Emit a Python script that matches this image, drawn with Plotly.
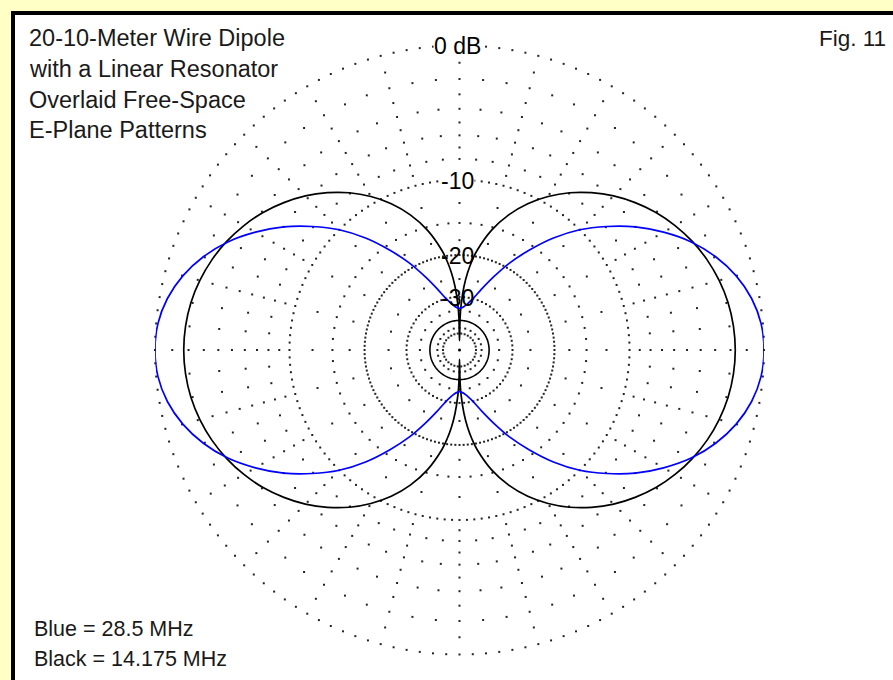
import numpy as np
import plotly.graph_objects as go

# ---------------- data ----------------
angles = [0, 5, 10, 15, 20, 25, 30, 35, 40, 45, 50, 55, 60, 65, 70, 75, 80, 82, 84, 86, 88, 89, 90,
          91, 92, 94, 96, 98, 100, 105, 110, 115, 120, 125, 130, 135, 140, 145, 150, 155, 160, 165, 170, 175, 180,
          185, 190, 195, 200, 205, 210, 215, 220, 225, 230, 235, 240, 245, 250, 255, 260, 262, 264, 266, 268, 269, 270,
          271, 272, 274, 276, 278, 280, 285, 290, 295, 300, 305, 310, 315, 320, 325, 330, 335, 340, 345, 350, 355, 360]

black_db = [-1.70, -1.75, -1.89, -2.14, -2.48, -2.92, -3.46, -4.10, -4.87, -5.74, -6.76, -7.92, -9.29, -10.89, -12.87, -15.40, -18.93, -20.89, -23.39, -26.92, -32.94, -38.96, -60.0,
            -38.96, -32.94, -26.92, -23.39, -20.89, -18.93, -15.40, -12.87, -10.89, -9.29, -7.92, -6.76, -5.74, -4.87, -4.10, -3.46, -2.92, -2.48, -2.14, -1.89, -1.75, -1.70,
            -1.75, -1.89, -2.14, -2.48, -2.92, -3.46, -4.10, -4.87, -5.74, -6.76, -7.92, -9.29, -10.89, -12.87, -15.40, -18.93, -20.89, -23.39, -26.92, -32.94, -38.96, -60.0,
            -38.96, -32.94, -26.92, -23.39, -20.89, -18.93, -15.40, -12.87, -10.89, -9.29, -7.92, -6.76, -5.74, -4.87, -4.10, -3.46, -2.92, -2.48, -2.14, -1.89, -1.75, -1.70]

blue_db = [0.0, -0.10, -0.45, -1.05, -1.90, -3.00, -4.40, -6.00, -7.90, -10.00, -12.60, -15.70, -19.00, -22.80, -26.50, -29.80, -32.00, -32.70, -33.30, -33.70, -34.00, -34.10, -34.20,
           -34.10, -34.00, -33.70, -33.30, -32.70, -32.00, -29.80, -26.50, -22.80, -19.00, -15.70, -12.60, -10.00, -7.90, -6.00, -4.40, -3.00, -1.90, -1.05, -0.45, -0.10, 0.0,
           -0.10, -0.45, -1.05, -1.90, -3.00, -4.40, -6.00, -7.90, -10.00, -12.60, -15.70, -19.00, -22.80, -26.50, -29.80, -32.00, -32.70, -33.30, -33.70, -34.00, -34.10, -34.20,
           -34.10, -34.00, -33.70, -33.30, -32.70, -32.00, -29.80, -26.50, -22.80, -19.00, -15.70, -12.60, -10.00, -7.90, -6.00, -4.40, -3.00, -1.90, -1.05, -0.45, -0.10, 0.0]

# grid levels (dB)
major_rings = [0, -10, -20]
minor_rings = [-2, -4, -6, -8, -15, -30]
inner_ring = -50
solid_ring = -40
spoke_levels = [-1, -3, -5, -7, -9, -12.5, -17.5, -25, -35, -45]
spoke_step = 15

ring_labels = ["0 dB", "-10", "-20", "-30"]
ring_label_levels = [0, -10, -20, -30]

title_lines = ["20-10-Meter Wire Dipole", "with a Linear Resonator", "Overlaid Free-Space", "E-Plane Patterns"]
legend_lines = ["Blue = 28.5 MHz", "Black = 14.175 MHz"]
fig_label = "Fig. 11"

# ---------------- ARRL log scale ----------------
def arrl(db):
    return 0.89 ** (-np.asarray(db, dtype=float) / 2.0)

W, H = 893, 680
CX, CY, R = 459.5, 350.0, 304.5
BG = "#ffffc6"

fig = go.Figure()

# dotted grid as small dots
gt, gr = [], []
def add_ring(level, step):
    for a in np.arange(0, 360, step):
        gt.append(float(a)); gr.append(float(arrl(level)))

for lv in major_rings:
    add_ring(lv, 2.5)
for lv in minor_rings:
    add_ring(lv, 5)
add_ring(inner_ring, 12)
for a in range(0, 360, spoke_step):
    for lv in spoke_levels:
        gt.append(a); gr.append(float(arrl(lv)))

fig.add_trace(go.Scatterpolar(r=gr, theta=gt, mode="markers",
                              marker=dict(color="#222222", size=2.0, symbol="square", line=dict(width=0)),
                              hoverinfo="skip", showlegend=False))

# solid ring
th = np.linspace(0, 360, 181)
fig.add_trace(go.Scatterpolar(r=[float(arrl(solid_ring))] * len(th), theta=th, mode="lines",
                              line=dict(color="black", width=1.6),
                              hoverinfo="skip", showlegend=False))

# patterns
fig.add_trace(go.Scatterpolar(r=arrl(black_db), theta=angles, mode="lines",
                              line=dict(color="black", width=1.7, shape="spline", smoothing=1.0),
                              showlegend=False))
fig.add_trace(go.Scatterpolar(r=arrl(blue_db), theta=angles, mode="lines",
                              line=dict(color="#0000ff", width=1.7, shape="spline", smoothing=1.0),
                              showlegend=False))
fig.add_trace(go.Scatterpolar(r=[0], theta=[0], mode="markers",
                              marker=dict(color="black", size=3), showlegend=False))

fig.update_layout(
    width=W, height=H,
    margin=dict(l=0, r=0, t=0, b=0),
    paper_bgcolor=BG,
    plot_bgcolor="white",
    showlegend=False,
    hovermode=False,
    polar=dict(
        domain=dict(x=[(CX - R) / W, (CX + R) / W], y=[(H - CY - R) / H, (H - CY + R) / H]),
        bgcolor="rgba(0,0,0,0)",
        radialaxis=dict(range=[0, 1.0], visible=False, showgrid=False),
        angularaxis=dict(visible=False, showgrid=False, rotation=0, direction="counterclockwise"),
    ),
    shapes=[dict(type="rect", xref="paper", yref="paper", layer="below",
                 x0=13 / W, x1=1.2, y0=-0.2, y1=1 - 13 / H,
                 line=dict(color="black", width=4), fillcolor="white")],
)

FONT = "Liberation Sans, Arial, sans-serif"
TXT = "#1a1a1a"
ann = []
for i, t in enumerate(title_lines):
    ann.append(dict(x=27 / W, y=1 - (53 + 30.8 * i) / H, xref="paper", yref="paper",
                    text=t, showarrow=False, xanchor="left", yanchor="bottom",
                    font=dict(family=FONT, size=23.5, color=TXT)))
for i, t in enumerate(legend_lines):
    ann.append(dict(x=32 / W, y=1 - (643 + 30 * i) / H, xref="paper", yref="paper",
                    text=t, showarrow=False, xanchor="left", yanchor="bottom",
                    font=dict(family=FONT, size=21.5, color=TXT)))
ann.append(dict(x=888 / W, y=1 - 53 / H, xref="paper", yref="paper", text=fig_label,
                showarrow=False, xanchor="right", yanchor="bottom",
                font=dict(family=FONT, size=22.5, color=TXT)))
for lab, lv in zip(ring_labels, ring_label_levels):
    ry = CY - R * float(arrl(lv)) + 1
    ann.append(dict(x=458 / W, y=1 - ry / H, xref="paper", yref="paper", text=lab,
                    showarrow=False, xanchor="center", yanchor="middle",
                    bgcolor="white" if lv > -15 else "rgba(0,0,0,0)", borderpad=0,
                    font=dict(family=FONT, size=23, color="black")))
fig.update_layout(annotations=ann)

fig.write_html(
    "out.html",
    config={"displayModeBar": False, "staticPlot": True},
    post_script=("document.body.style.margin='0px';document.body.style.padding='0px';"
                 "document.body.style.overflow='hidden';document.body.style.background='" + BG + "';"),
)
